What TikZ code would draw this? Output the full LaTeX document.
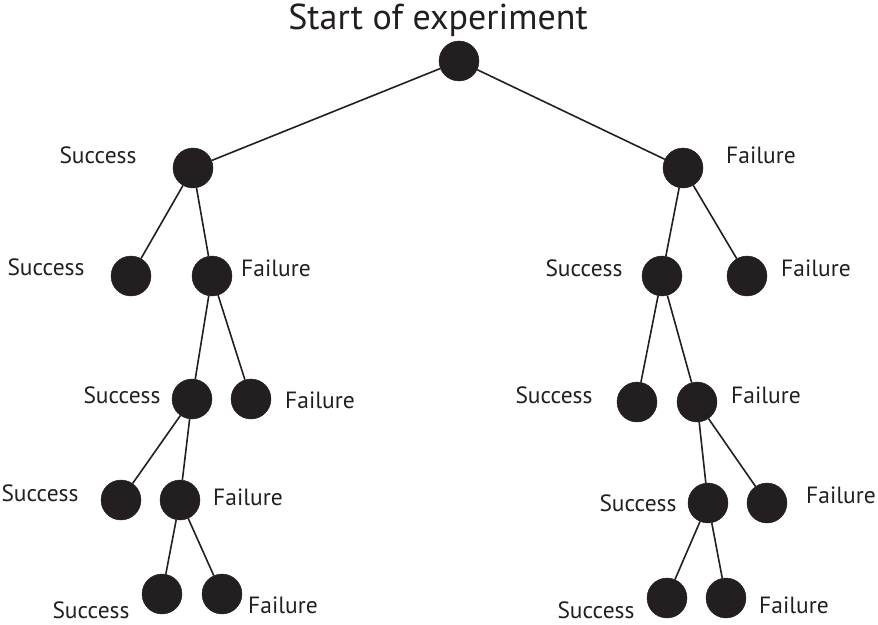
\documentclass[tikz,border=0pt]{standalone}
\usepackage{fontspec}
\setmainfont{PT Sans}
\usepackage{tikz}
\usetikzlibrary{calc, arrows.meta}
\definecolor{ink}{HTML}{231F20}

\tikzset{
    dot/.style = {circle, fill=ink, draw=ink, minimum size=40pt, inner sep=0pt},
    lbl/.style = {text=ink, font=\fontsize{23.5}{28}\selectfont, inner sep=0pt},
    link/.style = {draw=ink, line width=1.6pt}
}

\begin{document}
\begin{tikzpicture}[x=1pt, y=-1pt]
        \useasboundingbox (0,0) rectangle (878,624);

        \node[anchor=base, text=ink, font=\fontsize{36}{42}\selectfont, inner sep=0pt](T) at (438, 29){Start of experiment};
        \node[dot](R) at (459, 61){};

        \node[dot](S) at (193, 168){};
        \node[dot](F) at (683, 168){};
        \node[lbl](S_l) at (98, 155){Success};
        \node[lbl](F_l) at (761, 155){Failure};
        \path[link] (R) edge node {}(S);
        \path[link] (R) edge node {}(F);

        \node[dot](S_s) at (131, 276){};
        \node[dot](S_f) at (212, 276){};
        \node[lbl](S_s_l) at (46, 267){Success};
        \node[lbl](S_f_l) at (276, 268){Failure};
        \path[link] (S) edge node {}(S_s);
        \path[link] (S) edge node {}(S_f);

        \node[dot](S_fs) at (192, 399){};
        \node[dot](S_ff) at (251, 399){};
        \node[lbl](S_fs_l) at (122, 395){Success};
        \node[lbl](S_ff_l) at (320, 400){Failure};
        \path[link] (S_f) edge node {}(S_fs);
        \path[link] (S_f) edge node {}(S_ff);

        \node[dot](S_fss) at (121, 500){};
        \node[dot](S_fsf) at (180, 500){};
        \node[lbl](S_fss_l) at (40, 493){Success};
        \node[lbl](S_fsf_l) at (248, 497){Failure};
        \path[link] (S_fs) edge node {}(S_fss);
        \path[link] (S_fs) edge node {}(S_fsf);

        \node[dot](S_fsfs) at (162, 594){};
        \node[dot](S_fsff) at (222, 594){};
        \node[lbl](S_fsfs_l) at (91, 610){Success};
        \node[lbl](S_fsff_l) at (283, 605){Failure};
        \path[link] (S_fsf) edge node {}(S_fsfs);
        \path[link] (S_fsf) edge node {}(S_fsff);

        \node[dot](F_s) at (662, 276){};
        \node[dot](F_f) at (747, 276){};
        \node[lbl](F_s_l) at (584, 268){Success};
        \node[lbl](F_f_l) at (816, 268){Failure};
        \path[link] (F) edge node {}(F_s);
        \path[link] (F) edge node {}(F_f);

        \node[dot](F_ss) at (637, 402){};
        \node[dot](F_sf) at (697, 402){};
        \node[lbl](F_ss_l) at (554, 395){Success};
        \node[lbl](F_sf_l) at (766, 395){Failure};
        \path[link] (F_s) edge node {}(F_ss);
        \path[link] (F_s) edge node {}(F_sf);

        \node[dot](F_sfs) at (708, 503){};
        \node[dot](F_sff) at (767, 503){};
        \node[lbl](F_sfs_l) at (638, 503){Success};
        \node[lbl](F_sff_l) at (841, 495){Failure};
        \path[link] (F_sf) edge node {}(F_sfs);
        \path[link] (F_sf) edge node {}(F_sff);

        \node[dot](F_sfss) at (667, 598){};
        \node[dot](F_sfsf) at (726, 598){};
        \node[lbl](F_sfss_l) at (596, 610){Success};
        \node[lbl](F_sfsf_l) at (794, 605){Failure};
        \path[link] (F_sfs) edge node {}(F_sfss);
        \path[link] (F_sfs) edge node {}(F_sfsf);
    \end{tikzpicture}
\end{document}
